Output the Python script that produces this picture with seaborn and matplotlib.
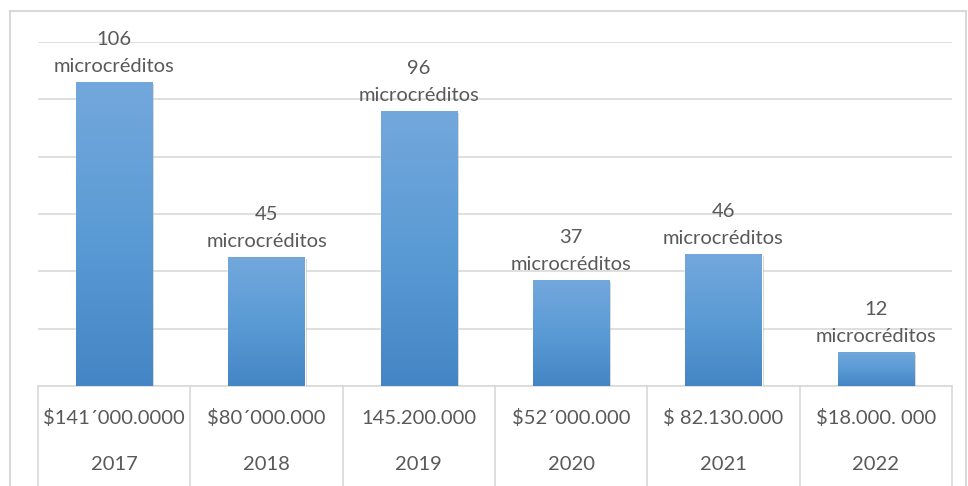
import numpy as np
import pandas as pd
import matplotlib
matplotlib.use("Agg")
import matplotlib.pyplot as plt
import seaborn as sns
from matplotlib import patheffects as pe
from matplotlib.colors import LinearSegmentedColormap
from matplotlib.lines import Line2D

# ---------------- datos ----------------
years = ["2017", "2018", "2019", "2020", "2021", "2022"]
amounts = ["$141´000.0000", "$80´000.000", "145.200.000",
           "$52´000.000", "$ 82.130.000", "$18.000. 000"]
counts = [106, 45, 96, 37, 46, 12]

df = pd.DataFrame({"year": years, "amount": amounts, "count": counts})

sns.set_theme(style="white")
plt.rcParams["font.family"] = ["Lato", "DejaVu Sans"]

TEXT = "#595959"
GRID = "#d9d9d9"
FS = 14.5

fig = plt.figure(figsize=(9.68, 4.86), dpi=100)
W, H = 968, 486
ax = fig.add_axes([38 / W, (H - 386) / H, (952 - 38) / W, (386 - 42) / H])

sns.barplot(data=df, x="year", y="count", color="#5b9bd5", width=0.5,
            saturation=1, ax=ax, zorder=3)

ax.set_ylim(0, 120)
ax.set_xlim(-0.5, len(years) - 0.5)
ax.set_yticks(range(0, 121, 20))
ax.yaxis.grid(True, color=GRID, linewidth=1.2, zorder=0)
ax.set_yticklabels([])
ax.tick_params(left=False, bottom=False)
ax.set_xticklabels([])
ax.set_xlabel("")
ax.set_ylabel("")
for s in ax.spines.values():
    s.set_visible(False)

# degradado en las barras
cmap = LinearSegmentedColormap.from_list("g", ["#4485c5", "#5b9bd5", "#73a8dc"])
grad = np.linspace(0, 1, 256).reshape(-1, 1)
for p in ax.patches:
    x0, w, h = p.get_x(), p.get_width(), p.get_height()
    p.set_path_effects([pe.SimplePatchShadow(offset=(1.5, -1.5), shadow_rgbFace="#808080", alpha=0.35),
                        pe.Normal()])
    im = ax.imshow(grad, extent=[x0, x0 + w, 0, h], origin="lower", cmap=cmap,
                   aspect="auto", zorder=4)
    im.set_clip_path(p)
ax.set_ylim(0, 120)
ax.set_xlim(-0.5, len(years) - 0.5)

# etiquetas sobre las barras
for i, c in enumerate(counts):
    ax.annotate(f"{c}\nmicrocréditos", xy=(i, c), xytext=(0, 5),
                textcoords="offset points", ha="center", va="bottom",
                fontsize=FS, color=TEXT, linespacing=1.7, zorder=5)

# tabla del eje x
xt = ax.get_xaxis_transform()
bottom = -100 / 344
ax.plot([-0.5, len(years) - 0.5], [0, 0], transform=xt, color=GRID,
        linewidth=1.2, clip_on=False, zorder=2)
for b in np.arange(-0.5, len(years), 1.0):
    ax.plot([b, b], [0, bottom], transform=xt, color=GRID, linewidth=1.2,
            clip_on=False)
for i, (a, y) in enumerate(zip(amounts, years)):
    ax.annotate(a, xy=(i, 0), xycoords=("data", "axes fraction"),
                xytext=(0, -32 * 0.72), textcoords="offset points",
                ha="center", va="center", fontsize=FS, color=TEXT)
    ax.annotate(y, xy=(i, 0), xycoords=("data", "axes fraction"),
                xytext=(0, -79 * 0.72), textcoords="offset points",
                ha="center", va="center", fontsize=FS, color=TEXT)

# marco exterior
for xs, ys in [((10, 10), (0, 475)), ((10, 966), (475, 475)), ((966, 966), (475, 0))]:
    fig.add_artist(Line2D([x / W for x in xs], [y / H for y in ys],
                          color=GRID, linewidth=1.5))

fig.savefig("out.png", dpi=100)
